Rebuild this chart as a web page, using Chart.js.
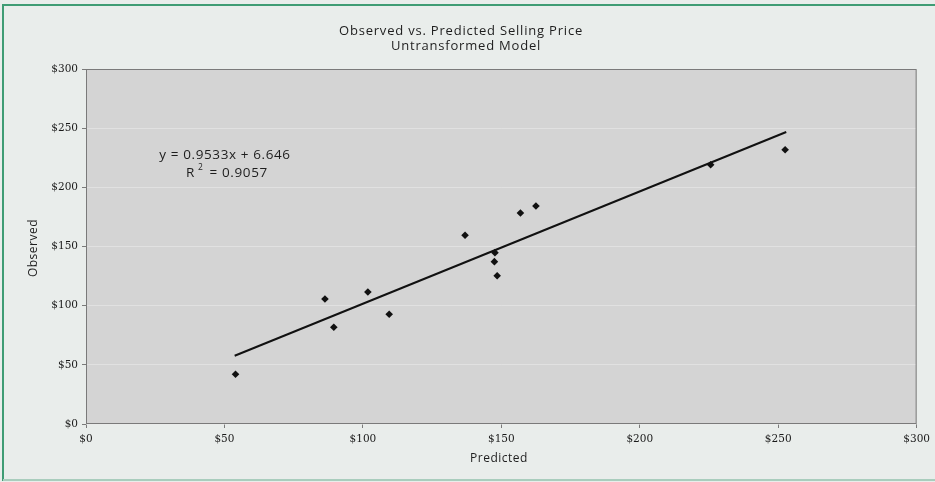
<!DOCTYPE html>
<html>
<head>
<meta charset="utf-8">
<script src="https://cdn.jsdelivr.net/npm/chart.js@4/dist/chart.umd.min.js"></script>
<style>
  html, body { margin: 0; padding: 0; background: #e9edeb; }
  #wrap { position: relative; width: 935px; height: 482px; }
  canvas { display: block; }
</style>
</head>
<body>
<div id="wrap"><canvas id="c" width="935" height="482"></canvas></div>
<script>
// Data
const predicted = [54.0, 86.3, 89.5, 101.8, 109.5, 136.9, 147.7, 147.5, 148.5, 156.9, 162.5, 225.6, 252.5];
const observed  = [42.0, 105.6, 81.7, 111.5, 92.7, 159.5, 144.8, 137.2, 125.3, 178.3, 184.2, 219.1, 231.8];
const trendX = [53.7, 252.9];
const trendY = [57.7, 246.8];
const axisTicks = [0, 50, 100, 150, 200, 250, 300];
const titleLines = ["Observed vs. Predicted Selling Price", "Untransformed Model"];
const equationText = "y = 0.9533x + 6.646";
const r2Text = "0.9057";
const xTitle = "Predicted";
const yTitle = "Observed";

const pts = predicted.map((x, i) => ({ x: x, y: observed[i] }));
const trend = trendX.map((x, i) => ({ x: x, y: trendY[i] }));

const SANS = '"Open Sans", sans-serif';

const decor = {
  id: 'decor',
  beforeDraw(chart) {
    const ctx = chart.ctx;
    const a = chart.chartArea;
    ctx.save();
    ctx.fillStyle = '#e9edeb';
    ctx.fillRect(0, 0, chart.width, chart.height);
    ctx.strokeStyle = '#3f9c74';
    ctx.lineWidth = 2;
    ctx.beginPath();
    ctx.moveTo(3, 481); ctx.lineTo(3, 5); ctx.lineTo(935, 5);
    ctx.stroke();
    ctx.strokeStyle = '#a9cdbd';
    ctx.beginPath();
    ctx.moveTo(3, 480); ctx.lineTo(935, 480);
    ctx.stroke();
    ctx.fillStyle = '#d4d4d4';
    ctx.fillRect(a.left, a.top, a.right - a.left, a.bottom - a.top);
    ctx.restore();
  },
  afterDraw(chart) {
    const ctx = chart.ctx;
    const a = chart.chartArea;
    ctx.save();
    ctx.strokeStyle = '#7a7a7a';
    ctx.lineWidth = 1;
    ctx.strokeRect(a.left + 0.5, a.top + 0.5, a.right - a.left - 1, a.bottom - a.top - 1);

    ctx.fillStyle = '#1e1e1e';
    ctx.textAlign = 'center';
    ctx.textBaseline = 'middle';
    ctx.letterSpacing = '0.8px';
    ctx.font = '13px ' + SANS;
    ctx.fillText(titleLines[0], 461, 31);
    ctx.fillText(titleLines[1], 466, 46);

    ctx.letterSpacing = '0.5px';
    ctx.font = '12px ' + SANS;
    ctx.fillText(xTitle, 499, 459);
    ctx.save();
    ctx.translate(34, 248);
    ctx.rotate(-Math.PI / 2);
    ctx.fillText(yTitle, 0, 0);
    ctx.restore();

    ctx.letterSpacing = '0.6px';
    ctx.font = '13.5px ' + SANS;
    ctx.fillText(equationText, 225, 155);
    ctx.textAlign = 'left';
    let x = 186;
    ctx.fillText('R', x, 173);
    x += ctx.measureText('R ').width;
    ctx.font = '8.5px ' + SANS;
    ctx.fillText('2', x - 1, 168);
    x += ctx.measureText('2').width + 1;
    ctx.font = '13.5px ' + SANS;
    ctx.fillText(' = ' + r2Text, x, 173);
    ctx.restore();
  }
};

new Chart(document.getElementById('c'), {
  type: 'scatter',
  data: {
    datasets: [
      {
        label: 'Observed',
        data: pts,
        pointStyle: 'rectRot',
        radius: 3.8,
        backgroundColor: '#111',
        borderColor: '#111',
        borderWidth: 0
      },
      {
        label: 'Trend',
        data: trend,
        showLine: true,
        pointRadius: 0,
        borderColor: '#111',
        borderWidth: 2,
        fill: false
      }
    ]
  },
  options: {
    responsive: false,
    animation: false,
    events: [],
    layout: { padding: { top: 69, right: 12, bottom: 0, left: 0 } },
    plugins: { legend: { display: false }, tooltip: { enabled: false }, title: { display: false } },
    scales: {
      x: {
        type: 'linear',
        min: 0, max: 300,
        afterBuildTicks(s) { s.ticks = axisTicks.map(v => ({ value: v })); },
        afterFit(s) { s.height = 58; },
        border: { display: false },
        grid: { drawOnChartArea: false, tickLength: 4, color: '#7a7a7a' },
        ticks: {
          padding: 5,
          color: '#1a1a1a',
          font: { family: '"DejaVu Serif", serif', size: 10.5 },
          callback: v => '$' + v,
          maxRotation: 0
        }
      },
      y: {
        type: 'linear',
        min: 0, max: 300,
        afterBuildTicks(s) { s.ticks = axisTicks.map(v => ({ value: v })); },
        afterFit(s) { s.width = 86; },
        border: { display: false },
        grid: { color: 'rgba(235,235,235,0.55)', tickColor: '#7a7a7a', tickLength: 4, lineWidth: 1 },
        ticks: {
          padding: 4,
          color: '#1a1a1a',
          font: { family: '"DejaVu Serif", serif', size: 10.5 },
          callback: v => '$' + v
        }
      }
    }
  },
  plugins: [decor]
});
</script>
</body>
</html>
